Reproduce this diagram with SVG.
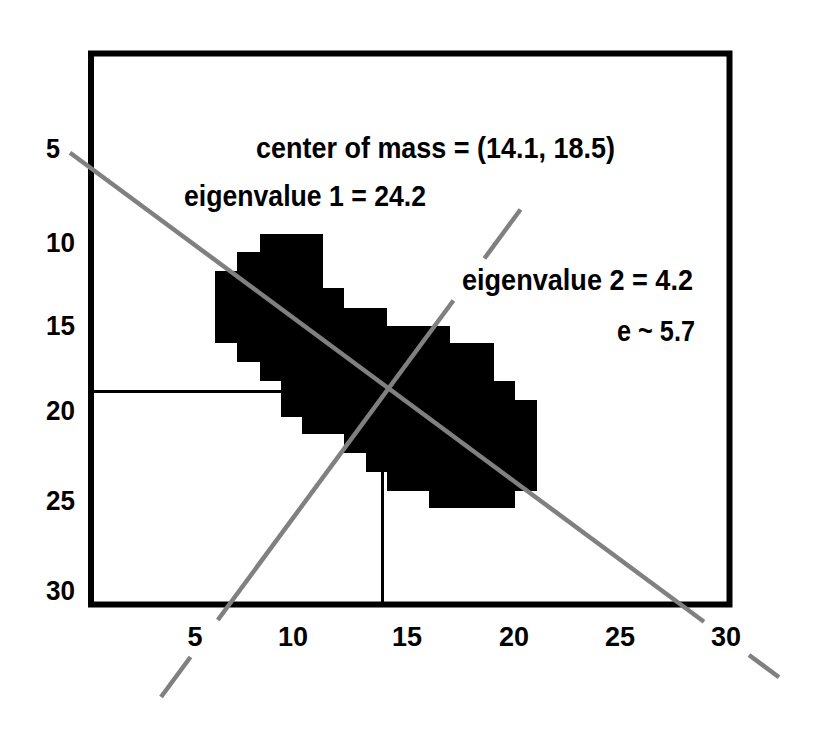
<svg xmlns="http://www.w3.org/2000/svg" width="830" height="729" viewBox="0 0 830 729">
<style>
text{font-family:"Liberation Sans",Arial,sans-serif;font-weight:bold;fill:#000}
.ax{font-size:27px}
.lb{font-size:30px}
.axis-line{stroke:#808080;stroke-width:4.5;fill:none}
.guide{stroke:#000;stroke-width:3;fill:none}
</style>
<rect x="0" y="0" width="830" height="729" fill="#fff"/>
<g id="frame">
<rect x="91" y="53.5" width="638.5" height="551" fill="none" stroke="#000" stroke-width="6"/>
</g>
<g id="blob">
<polygon fill="#000" points="260,234 323,234 323,288 344,288 344,308 387,308 387,326 450,326 450,343 494,343 494,381 515,381 515,400 537,400 537,491 515,491 515,508 429,508 429,491 387,491 387,472 366,472 366,453 344,453 344,434 302,434 302,417 281,417 281,381 260,381 260,362 237,362 237,343 215,343 215,271 237,271 237,252 260,252"/>
</g>
<g id="connectors">
<line class="guide" x1="94" y1="391.5" x2="282" y2="391.5"/>
<line class="guide" x1="382.5" y1="471" x2="382.5" y2="602"/>
<line class="axis-line" x1="70" y1="152.7" x2="704" y2="621.7"/>
<line class="axis-line" x1="749" y1="655" x2="779" y2="677.2"/>
<line class="axis-line" x1="520.5" y1="209.5" x2="484.4" y2="258.5"/>
<line class="axis-line" x1="453.4" y1="300.5" x2="217.8" y2="620"/>
<line class="axis-line" x1="190.5" y1="657" x2="161" y2="697"/>
</g>
<g id="y-labels">
<text class="ax" x="46" y="158" textLength="14" lengthAdjust="spacingAndGlyphs">5</text>
<text class="ax" x="46" y="251.5" textLength="29" lengthAdjust="spacingAndGlyphs">10</text>
<text class="ax" x="46" y="335" textLength="29" lengthAdjust="spacingAndGlyphs">15</text>
<text class="ax" x="46" y="420" textLength="29" lengthAdjust="spacingAndGlyphs">20</text>
<text class="ax" x="46" y="510" textLength="29" lengthAdjust="spacingAndGlyphs">25</text>
<text class="ax" x="46" y="600" textLength="29" lengthAdjust="spacingAndGlyphs">30</text>
</g>
<g id="x-labels" text-anchor="middle">
<text class="ax" x="195" y="646">5</text>
<text class="ax" x="293" y="646">10</text>
<text class="ax" x="407" y="646">15</text>
<text class="ax" x="514" y="646">20</text>
<text class="ax" x="620" y="646">25</text>
<text class="ax" x="726" y="646">30</text>
</g>
<g id="annotations">
<text class="lb" x="256" y="158" textLength="359" lengthAdjust="spacingAndGlyphs">center of mass = (14.1, 18.5)</text>
<text class="lb" x="184" y="206" textLength="242" lengthAdjust="spacingAndGlyphs">eigenvalue 1 = 24.2</text>
<text class="lb" x="462" y="290" textLength="231" lengthAdjust="spacingAndGlyphs">eigenvalue 2 = 4.2</text>
<text class="lb" x="617" y="341" textLength="78" lengthAdjust="spacingAndGlyphs">e ~ 5.7</text>
</g>
</svg>
